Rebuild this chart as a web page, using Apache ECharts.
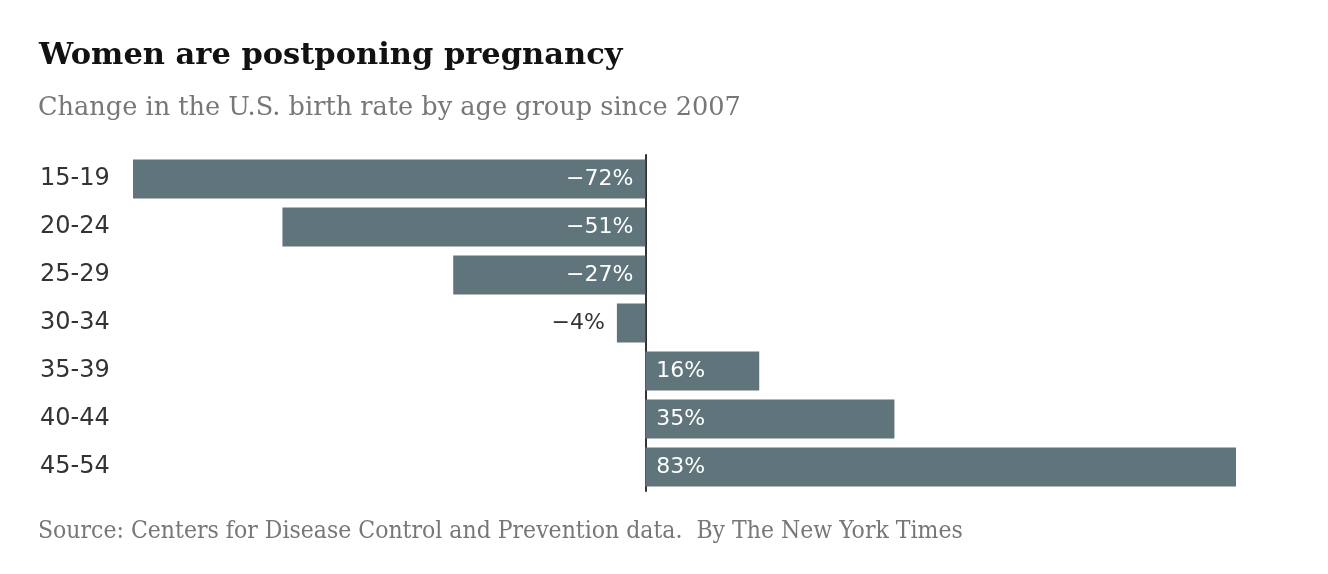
<!DOCTYPE html>
<html><head><meta charset="utf-8">
<script src="https://cdn.jsdelivr.net/npm/echarts@6/dist/echarts.min.js"></script>
<style>html,body{margin:0;padding:0;background:#fff}#c{width:1328px;height:574px}</style>
</head><body><div id="c"></div>
<script>
const categories = ["15-19","20-24","25-29","30-34","35-39","40-44","45-54"];
const values = [-72, -51, -27, -4, 16, 35, 83];
const titleText = "Women are postponing pregnancy";
const subtitleText = "Change in the U.S. birth rate by age group since 2007";
const sourceText = "Source: Centers for Disease Control and Prevention data.  By The New York Times";

const fmt = v => (v < 0 ? "\u2212" + Math.abs(v) : "" + v) + "%";
const labelFont = "'DejaVu Sans', sans-serif";
const seriesData = values.map(v => {
  let label;
  if (v < 0 && v > -10) {
    label = {position: 'left', distance: 12, color: '#333'};
  } else if (v < 0) {
    label = {position: 'insideRight', distance: 12, color: '#fff'};
  } else {
    label = {position: 'insideLeft', distance: 11, color: '#fff'};
  }
  return {value: v, label: label};
});

const chart = echarts.init(document.getElementById('c'));
chart.setOption({
  animation: false,
  title: [
    {text: titleText, left: 34, top: 36,
     textStyle: {fontFamily: "'DejaVu Serif', serif", fontWeight: 'bold', fontSize: 30.5, color: '#121212'}},
    {text: subtitleText, left: 33, top: 90,
     textStyle: {fontFamily: "'DejaVu Serif', serif", fontWeight: 'normal', fontSize: 25.6, color: '#777'}},
    {text: sourceText, left: 33, top: 514,
     textStyle: {fontFamily: "'DejaVu Serif Condensed', 'DejaVu Serif', serif", fontWeight: 'normal', fontSize: 24.5, color: '#777'}}
  ],
  grid: {left: 133, right: 92, top: 155, height: 336},
  xAxis: {type: 'value', min: -72, max: 83, show: false},
  yAxis: {
    type: 'category', data: categories, inverse: true,
    axisLine: {show: true, onZero: true, lineStyle: {color: '#333', width: 2}},
    axisTick: {show: false},
    axisLabel: {align: 'left', margin: 93, fontSize: 24, color: '#333', fontFamily: labelFont, padding: [4, 0, 0, 0]}
  },
  series: [{
    type: 'bar', data: seriesData, barWidth: 39,
    itemStyle: {color: '#5f747b'},
    label: {show: true, fontSize: 22, fontFamily: labelFont, padding: [4, 0, 0, 0], formatter: p => fmt(p.value)}
  }]
});
</script></body></html>
